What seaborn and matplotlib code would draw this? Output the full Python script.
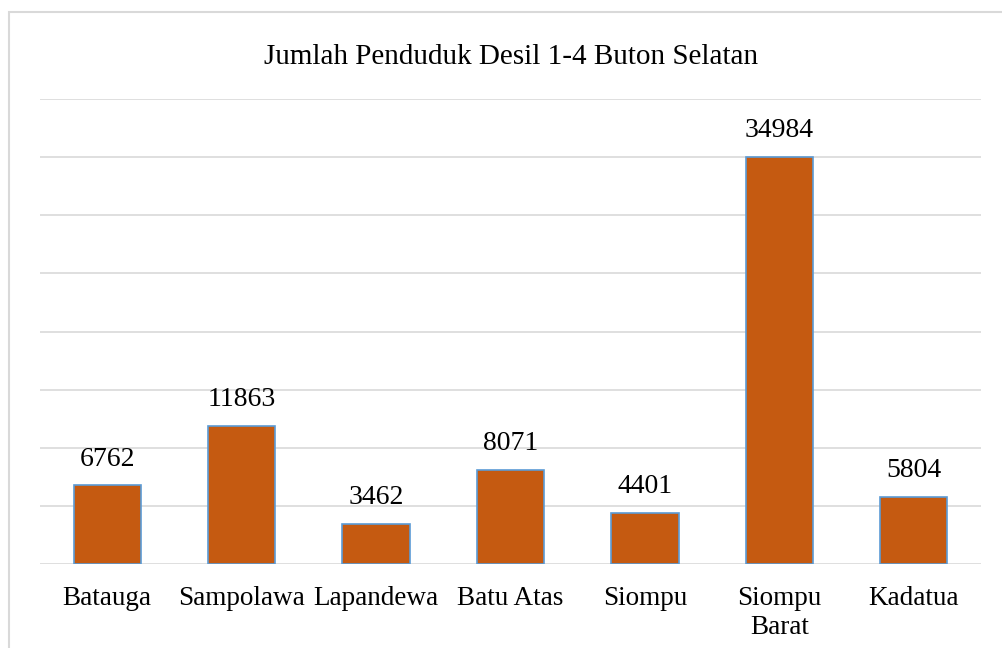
import matplotlib
matplotlib.use("Agg")
import matplotlib.pyplot as plt
import pandas as pd
import seaborn as sns
from matplotlib.patches import Rectangle

categories = ["Batauga", "Sampolawa", "Lapandewa", "Batu Atas", "Siompu", "Siompu\nBarat", "Kadatua"]
values = [6762, 11863, 3462, 8071, 4401, 34984, 5804]
title = "Jumlah Penduduk Desil 1-4 Buton Selatan"

sns.set_theme(style="white")
plt.rcParams["font.family"] = ["Liberation Serif", "DejaVu Serif"]

W, H = 1002, 648
fig = plt.figure(figsize=(W / 100, H / 100), dpi=100)
ax = fig.add_axes([40 / W, 1 - 564 / H, 941 / W, 465 / H])

df = pd.DataFrame({"cat": categories, "val": values})
sns.barplot(data=df, x="cat", y="val", ax=ax, color="#C55A11", saturation=1,
            width=0.5, edgecolor="#5B9BD5", linewidth=1.2, zorder=3)

ax.set_ylim(0, 40000)
ax.set_yticks(range(0, 40001, 5000))
ax.yaxis.grid(True, color="#D9D9D9", linewidth=1.2, zorder=0)
ax.set_yticklabels([])
ax.tick_params(axis="y", length=0)
ax.tick_params(axis="x", length=0, labelsize=19.5, pad=16, colors="black")
for s in ax.spines.values():
    s.set_visible(False)
ax.set_xlabel("")
ax.set_ylabel("")
for lbl in ax.get_xticklabels():
    lbl.set_verticalalignment("top")
    lbl.set_linespacing(1.2)

for i, v in enumerate(values):
    ax.annotate(str(v), (i, v), xytext=(0, 10), textcoords="offset points",
                ha="center", va="bottom", fontsize=20, color="black")

fig.text(511 / W, 1 - 57 / H, title, ha="center", va="center", fontsize=21, color="black")

fig.patches.append(Rectangle((9 / W, -0.1), 1.2, 1 - 12 / H + 0.1, transform=fig.transFigure,
                             fill=False, edgecolor="#D9D9D9", linewidth=1.5))

fig.savefig("out.png", dpi=100)
